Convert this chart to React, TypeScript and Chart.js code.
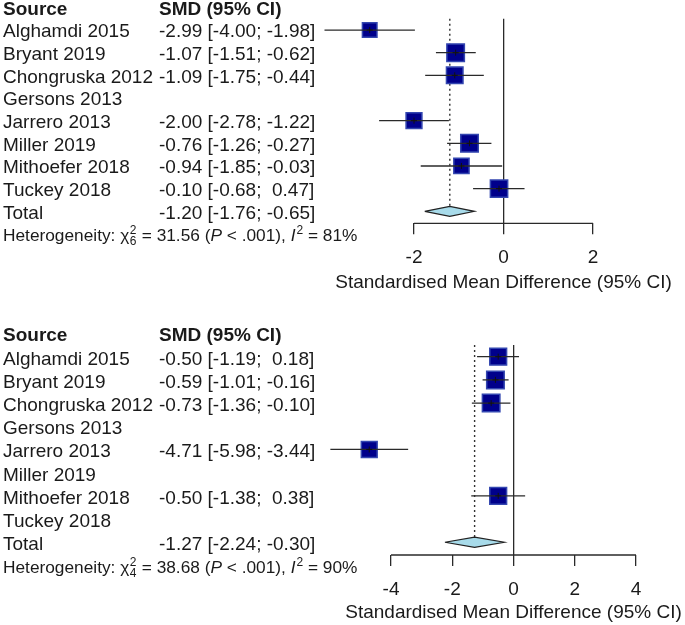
import React, { useEffect, useRef } from 'react';
import { Chart, registerables } from 'chart.js';

Chart.register(...registerables);

const FONT = '"Liberation Sans", Arial, Helvetica, sans-serif';

// ---------------- data ----------------
const studyNames = [
  'Alghamdi 2015',
  'Bryant 2019',
  'Chongruska 2012',
  'Gersons 2013',
  'Jarrero 2013',
  'Miller 2019',
  'Mithoefer 2018',
  'Tuckey 2018',
];
const headers = ['Source', 'SMD (95% CI)'];
const totalLabel = 'Total';
const axisTitle = 'Standardised Mean Difference (95% CI)';

// Top forest plot
const smdTop = [-2.99, -1.07, -1.09, null, -2.0, -0.76, -0.94, -0.1];
const lowerTop = [-4.0, -1.51, -1.75, null, -2.78, -1.26, -1.85, -0.68];
const upperTop = [-1.98, -0.62, -0.44, null, -1.22, -0.27, -0.03, 0.47];
const weightTop = [11.5, 16.1, 14.5, null, 13.4, 16.1, 12.5, 15.7];
const totalTop = [-1.2, -1.76, -0.65]; // estimate, lower, upper
const hetTop = ['6', '31.56', '< .001', '81%']; // df, chi2, P, I2
const xTicksTop = [-2, 0, 2];

// Bottom forest plot
const smdBottom = [-0.5, -0.59, -0.73, null, -4.71, null, -0.5, null];
const lowerBottom = [-1.19, -1.01, -1.36, null, -5.98, null, -1.38, null];
const upperBottom = [0.18, -0.16, -0.1, null, -3.44, null, 0.38, null];
const weightBottom = [19.8, 21.3, 21.3, null, 17.7, null, 19.8, null];
const totalBottom = [-1.27, -2.24, -0.3];
const hetBottom = ['4', '38.68', '< .001', '90%'];
const xTicksBottom = [-4, -2, 0, 2, 4];

// ---------------- helpers ----------------
const f2 = (v: number) => v.toFixed(2).padStart(5, ' ');
const ciText = (e: number, l: number, u: number) => `${f2(e)} [${f2(l)}; ${f2(u)}]`;

const TEXT = '#1a1a1a';
const LINE = '#2a2a2a';
const FS = 19;
const HFS = 17.3;
const SFS = 12;
const COL1 = 3;
const COL2 = 159;
const DH = 0.22; // diamond half height (rows)
const MAX_SIDE = 19;

type Spec = {
  smd: (number | null)[];
  lower: (number | null)[];
  upper: (number | null)[];
  weight: (number | null)[];
  total: number[];
  het: string[];
  ticks: number[];
};

type Geom = {
  width: number;
  height: number;
  zeroPx: number;
  ppu: number;
  xMin: number;
  xMax: number;
  top: number;
  bottomPad: number;
  axisH: number;
  yMax: number;
  textDy: number;
  titleDy: number;
};

function buildDatasets(s: Spec, g: Geom): any[] {
  const ds: any[] = [];
  const ws = s.weight.filter((w) => w != null) as number[];
  const maxW = Math.max(...ws);
  const [est, lo, hi] = s.total;

  // x axis line, spanning the tick range only
  ds.push({
    data: [
      { x: s.ticks[0], y: g.yMax },
      { x: s.ticks[s.ticks.length - 1], y: g.yMax },
    ],
    showLine: true,
    borderColor: LINE,
    borderWidth: 1.3,
    pointRadius: 0,
    order: 7,
    clip: false,
  });

  // pooled estimate dotted line
  ds.push({
    data: [
      { x: est, y: 0.5 },
      { x: est, y: 9 - DH },
    ],
    showLine: true,
    borderColor: '#333',
    borderWidth: 1.4,
    borderDash: [2, 3],
    pointRadius: 0,
    order: 6,
    clip: false,
  });

  // pooled diamond
  ds.push({
    data: [
      { x: lo, y: 9 },
      { x: est, y: 9 - DH },
      { x: hi, y: 9 },
      { x: est, y: 9 + DH },
      { x: lo, y: 9 },
    ],
    showLine: true,
    fill: 'shape',
    backgroundColor: '#a8dbea',
    borderColor: '#222',
    borderWidth: 1.2,
    pointRadius: 0,
    tension: 0,
    order: 5,
    clip: false,
  });

  const pts: { x: number; y: number }[] = [];
  const radii: number[] = [];
  s.smd.forEach((v, i) => {
    if (v == null) return;
    pts.push({ x: v, y: i + 1 });
    const side = MAX_SIDE * Math.sqrt((s.weight[i] as number) / maxW);
    radii.push((side - 1.5) / Math.SQRT2);
  });

  // study squares
  ds.push({
    data: pts,
    pointStyle: 'rect',
    pointRadius: radii,
    backgroundColor: '#00008b',
    borderColor: '#3346b0',
    borderWidth: 1.5,
    showLine: false,
    order: 4,
    clip: false,
  });

  // confidence intervals
  s.smd.forEach((v, i) => {
    if (v == null) return;
    ds.push({
      data: [
        { x: s.lower[i], y: i + 1 },
        { x: s.upper[i], y: i + 1 },
      ],
      showLine: true,
      borderColor: LINE,
      borderWidth: 1.3,
      pointRadius: 0,
      order: 3,
      clip: false,
    });
  });

  // small cross at the estimate
  ds.push({
    data: pts,
    pointStyle: 'cross',
    pointRadius: 3,
    borderColor: '#111',
    borderWidth: 1,
    backgroundColor: '#111',
    showLine: false,
    order: 1,
    clip: false,
  });
  return ds;
}

function textPlugin(s: Spec, g: Geom) {
  return {
    id: 'forestText',
    afterDraw(chart: any) {
      const { ctx } = chart;
      const y = chart.scales.y;
      const xs = chart.scales.x;
      const base = (row: number, size: number) =>
        y.getPixelForValue(row) + g.textDy + 0.3645 * size;
      ctx.save();
      ctx.fillStyle = TEXT;
      ctx.textBaseline = 'alphabetic';
      ctx.textAlign = 'left';
      ctx.font = `bold ${FS}px ${FONT}`;
      ctx.fillText(headers[0], COL1, base(0, FS));
      ctx.fillText(headers[1], COL2, base(0, FS));
      ctx.font = `${FS}px ${FONT}`;
      studyNames.forEach((n, i) => {
        const py = base(i + 1, FS);
        ctx.fillText(n, COL1, py);
        const e = s.smd[i];
        if (e != null) {
          ctx.fillText(ciText(e, s.lower[i] as number, s.upper[i] as number), COL2, py);
        }
      });
      const pt = base(9, FS);
      ctx.fillText(totalLabel, COL1, pt);
      ctx.fillText(ciText(s.total[0], s.total[1], s.total[2]), COL2, pt);

      // heterogeneity line
      const [df, chi2, p, i2] = s.het;
      const hy = base(10, HFS);
      let x = COL1;
      const norm = `${HFS}px ${FONT}`;
      const ital = `italic ${HFS}px ${FONT}`;
      const small = `${SFS}px ${FONT}`;
      const put = (t: string, font: string) => {
        ctx.font = font;
        ctx.fillText(t, x, hy);
        x += ctx.measureText(t).width;
      };
      put('Heterogeneity: ', norm);
      put('\u03c7', norm);
      ctx.font = small;
      const w2 = ctx.measureText('2').width;
      const wd = ctx.measureText(df).width;
      ctx.fillText('2', x + 0.5, hy - 7);
      ctx.fillText(df, x + 0.5, hy + 4.5);
      x += Math.max(w2, wd) + 1;
      put(` = ${chi2} (`, norm);
      put('P', ital);
      put(` ${p}), `, norm);
      put('I', ital);
      ctx.font = small;
      ctx.fillText('2', x + 1, hy - 7);
      x += ctx.measureText('2').width + 1;
      put(` = ${i2}`, norm);

      // axis title centred on the tick range
      const t0 = xs.getPixelForValue(s.ticks[0]);
      const t1 = xs.getPixelForValue(s.ticks[s.ticks.length - 1]);
      ctx.font = `${FS}px ${FONT}`;
      ctx.textAlign = 'center';
      ctx.textBaseline = 'middle';
      ctx.fillText(axisTitle, (t0 + t1) / 2, chart.chartArea.bottom + g.titleDy);
      ctx.restore();
    },
  };
}

function makeConfig(s: Spec, g: Geom): any {
  const left = g.zeroPx + g.xMin * g.ppu;
  const right = g.zeroPx + g.xMax * g.ppu;
  return {
    type: 'scatter',
    data: { datasets: buildDatasets(s, g) },
    options: {
      responsive: false,
      animation: false,
      events: [],
      layout: {
        padding: { left, right: g.width - right, top: g.top, bottom: g.bottomPad },
      },
      plugins: { legend: { display: false }, tooltip: { enabled: false } },
      scales: {
        x: {
          type: 'linear',
          min: g.xMin,
          max: g.xMax,
          afterBuildTicks: (sc: any) => {
            sc.ticks = s.ticks.map((v) => ({ value: v }));
          },
          afterFit: (sc: any) => {
            sc.height = g.axisH;
          },
          grid: {
            drawOnChartArea: true,
            drawTicks: true,
            tickLength: 11,
            lineWidth: 1.3,
            color: (c: any) => (c.tick && c.tick.value === 0 ? LINE : 'rgba(0,0,0,0)'),
            tickColor: LINE,
          },
          border: { display: false },
          ticks: {
            font: { size: FS, family: FONT },
            color: TEXT,
            padding: 12,
            maxRotation: 0,
            autoSkip: false,
          },
          title: { display: false },
        },
        y: {
          type: 'linear',
          display: false,
          reverse: true,
          min: 0.5,
          max: g.yMax,
        },
      },
    },
    plugins: [textPlugin(s, g)],
  };
}

const specTop: Spec = {
  smd: smdTop,
  lower: lowerTop,
  upper: upperTop,
  weight: weightTop,
  total: totalTop,
  het: hetTop,
  ticks: xTicksTop,
};
const specBottom: Spec = {
  smd: smdBottom,
  lower: lowerBottom,
  upper: upperBottom,
  weight: weightBottom,
  total: totalBottom,
  het: hetBottom,
  ticks: xTicksBottom,
};

const geomTop: Geom = {
  width: 685,
  height: 300,
  zeroPx: 503.5,
  ppu: 44.75,
  xMin: -4.6,
  xMax: 2,
  top: 18.7,
  bottomPad: 6.6,
  axisH: 70.1,
  yMax: 9.53,
  textDy: 0.5,
  titleDy: 59,
};
const geomBottom: Geom = {
  width: 685,
  height: 325,
  zeroPx: 513.5,
  ppu: 30.625,
  xMin: -6.3,
  xMax: 4,
  top: 45.1,
  bottomPad: 0.6,
  axisH: 69.4,
  yMax: 9.55,
  textDy: 1,
  titleDy: 58,
};

export default function App() {
  const topRef = useRef<HTMLCanvasElement>(null);
  const botRef = useRef<HTMLCanvasElement>(null);
  useEffect(() => {
    Chart.defaults.font.family = FONT;
    const c1 = new Chart(topRef.current as HTMLCanvasElement, makeConfig(specTop, geomTop));
    const c2 = new Chart(botRef.current as HTMLCanvasElement, makeConfig(specBottom, geomBottom));
    return () => {
      c1.destroy();
      c2.destroy();
    };
  }, []);
  return (
    <div
      style={{
        position: 'fixed',
        left: 0,
        top: 0,
        width: 685,
        height: 625,
        background: '#fff',
        overflow: 'hidden',
      }}
    >
      <canvas
        ref={topRef}
        width={geomTop.width}
        height={geomTop.height}
        style={{ position: 'absolute', left: 0, top: 0, width: geomTop.width, height: geomTop.height }}
      />
      <canvas
        ref={botRef}
        width={geomBottom.width}
        height={geomBottom.height}
        style={{ position: 'absolute', left: 0, top: 300, width: geomBottom.width, height: geomBottom.height }}
      />
    </div>
  );
}
